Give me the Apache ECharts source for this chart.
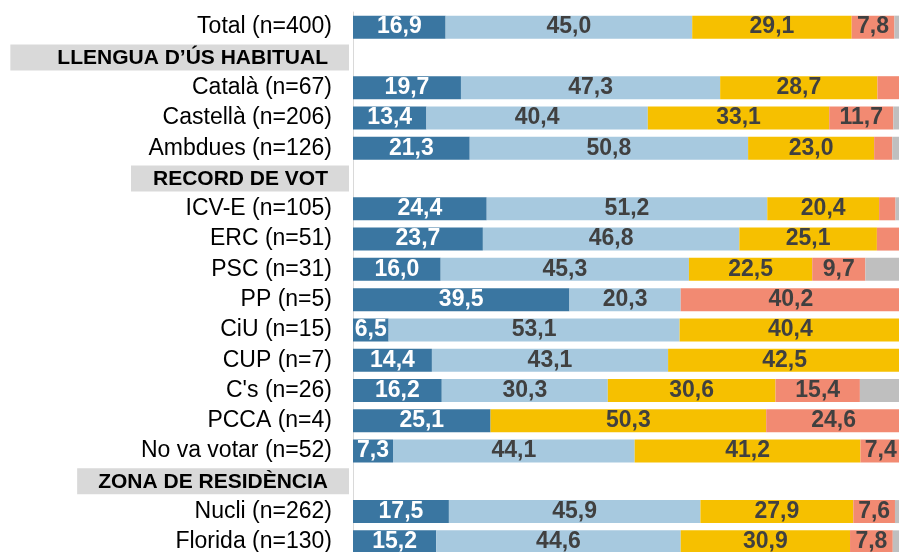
<!DOCTYPE html>
<html>
<head>
<meta charset="utf-8">
<script src="https://cdn.jsdelivr.net/npm/echarts@6/dist/echarts.min.js"></script>
<style>
  html, body { margin: 0; padding: 0; background: #fff; }
  #chart { width: 899px; height: 552px; }
</style>
</head>
<body>
<div id="chart"></div>
<script>
// files (categories), top to bottom
var categories = ['Total (n=400)', 'LLENGUA D\u2019ÚS HABITUAL', 'Català (n=67)', 'Castellà (n=206)', 'Ambdues (n=126)',
  'RECORD DE VOT', 'ICV-E (n=105)', 'ERC (n=51)', 'PSC (n=31)', 'PP (n=5)', 'CiU (n=15)', 'CUP (n=7)',
  "C's (n=26)", 'PCCA (n=4)', 'No va votar (n=52)', 'ZONA DE RESIDÈNCIA', 'Nucli (n=262)', 'Florida (n=130)'];
var headers = ['LLENGUA D\u2019ÚS HABITUAL', 'RECORD DE VOT', 'ZONA DE RESIDÈNCIA'];

// percentatges de cada segment (null = fila de capçalera)
var serie1 = [16.9, null, 19.7, 13.4, 21.3, null, 24.4, 23.7, 16.0, 39.5, 6.5, 14.4, 16.2, 25.1, 7.3, null, 17.5, 15.2];
var serie2 = [45.0, null, 47.3, 40.4, 50.8, null, 51.2, 46.8, 45.3, 20.3, 53.1, 43.1, 30.3, 0, 44.1, null, 45.9, 44.6];
var serie3 = [29.1, null, 28.7, 33.1, 23.0, null, 20.4, 25.1, 22.5, 0, 40.4, 42.5, 30.6, 50.3, 41.2, null, 27.9, 30.9];
var serie4 = [7.8, null, 4.0, 11.7, 3.3, null, 3.0, 4.4, 9.7, 40.2, 0, 0, 15.4, 24.6, 7.4, null, 7.6, 7.8];
var serie5 = [1.2, null, 0.3, 1.4, 1.6, null, 1.0, 0, 6.5, 0, 0, 0, 7.5, 0, 0, null, 1.1, 1.5];

var colors = ['#3a76a1', '#a7c9df', '#f6c000', '#f28a72', '#bfbfbf'];
var font = 'Liberation Sans, Arial, sans-serif';

var chart = echarts.init(document.getElementById('chart'));

function fmt(p) {
  if (p.value == null || p.value < 5) return '';
  return p.value.toFixed(1).replace('.', ',');
}

function makeSeries(name, data, idx, labelColor, showLabel) {
  return {
    name: name,
    type: 'bar',
    stack: 'total',
    barWidth: 23,
    data: data,
    itemStyle: { color: colors[idx] },
    label: {
      show: showLabel,
      position: 'inside',
      formatter: fmt,
      color: labelColor,
      fontFamily: font,
      fontWeight: 'bold',
      fontSize: 23
    },
    animation: false
  };
}

var hdr = { backgroundColor: '#d9d9d9', color: '#000', fontFamily: font, fontWeight: 'bold', fontSize: 21, lineHeight: 20 };

var option = {
  backgroundColor: '#ffffff',
  grid: { left: 353, top: 12, width: 548, height: 545, outerBoundsMode: 'none' },
  xAxis: { type: 'value', min: 0, max: 100, show: false },
  yAxis: [
    {
      type: 'category',
      inverse: true,
      data: categories,
      axisLine: { show: true, lineStyle: { color: '#d9d9d9', width: 1 } },
      axisTick: { show: false },
      axisLabel: {
        interval: 0,
        margin: 21,
        color: '#000',
        fontFamily: font,
        fontSize: 23,
        formatter: function (v) { return headers.indexOf(v) >= 0 ? '' : v; }
      }
    },
    {
      type: 'category',
      inverse: true,
      position: 'left',
      data: categories,
      axisLine: { show: false },
      axisTick: { show: false },
      axisLabel: {
        interval: 0,
        margin: 4,
        formatter: function (v) {
          var i = headers.indexOf(v);
          return i < 0 ? '' : '{h' + i + '|' + v + '}';
        },
        rich: {
          h0: Object.assign({ padding: [3, 21, 2, 47] }, hdr),
          h1: Object.assign({ padding: [3, 21, 2, 22] }, hdr),
          h2: Object.assign({ padding: [3, 21, 2, 21] }, hdr)
        }
      }
    }
  ],
  series: [
    makeSeries('Serie 1', serie1, 0, '#ffffff', true),
    makeSeries('Serie 2', serie2, 1, '#404040', true),
    makeSeries('Serie 3', serie3, 2, '#404040', true),
    makeSeries('Serie 4', serie4, 3, '#404040', true),
    makeSeries('Serie 5', serie5, 4, '#404040', false)
  ]
};

chart.setOption(option);
</script>
</body>
</html>
